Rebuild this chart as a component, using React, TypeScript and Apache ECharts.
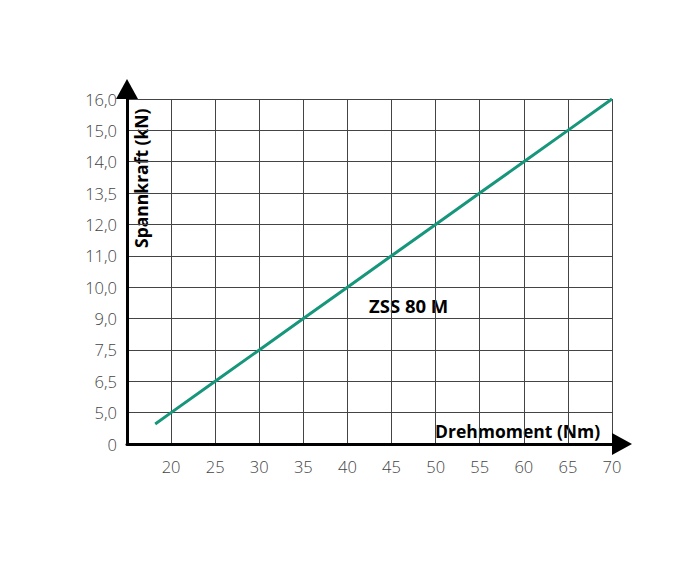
import React, { useEffect, useRef } from "react";
import * as echarts from "echarts";

const torqueTicks = [15, 20, 25, 30, 35, 40, 45, 50, 55, 60, 65, 70];
const forceLabels = ["0", "5,0", "6,5", "7,5", "9,0", "10,0", "11,0", "12,0", "13,5", "14,0", "15,0", "16,0"];
// line: torque (Nm) and position on force scale (index of gridline)
const torque = [18.2, 20, 25, 30, 35, 40, 45, 50, 55, 60, 65, 70];
const forceLevel = [0.64, 1, 2, 3, 4, 5, 6, 7, 8, 9, 10, 11];
const seriesName = "ZSS 80 M";
const xTitle = "Drehmoment (Nm)";
const yTitle = "Spannkraft (kN)";

const FONT = "'Open Sans', sans-serif";

export default function App() {
  const ref = useRef<HTMLDivElement>(null);
  useEffect(() => {
    if (!ref.current) return;
    const chart = echarts.init(ref.current, undefined, { renderer: "svg" });
    chart.setOption({
      animation: false,
      backgroundColor: "#ffffff",
      textStyle: { fontFamily: FONT },
      grid: { left: 119, top: 91, right: 80, bottom: 124, containLabel: false },
      xAxis: {
        type: "value",
        min: torqueTicks[0],
        max: torqueTicks[torqueTicks.length - 1],
        interval: 5,
        axisLine: {
          show: true,
          lineStyle: { color: "#000", width: 3 },
          symbol: ["none", "triangle"],
          symbolSize: [22, 20],
          symbolOffset: [0, 10],
        },
        axisTick: { show: false },
        axisLabel: {
          showMinLabel: false,
          color: "#444",
          fontSize: 16.5,
          fontWeight: 300,
          fontFamily: FONT,
          margin: 14,
        },
        splitLine: { show: true, lineStyle: { color: "#444", width: 1 } },
      },
      yAxis: {
        type: "value",
        min: 0,
        max: forceLabels.length - 1,
        interval: 1,
        axisLine: {
          show: true,
          lineStyle: { color: "#000", width: 3 },
          symbol: ["none", "triangle"],
          symbolSize: [22, 20],
          symbolOffset: [0, 10],
        },
        axisTick: { show: false },
        axisLabel: {
          color: "#444",
          fontSize: 16.5,
          fontWeight: 300,
          fontFamily: FONT,
          margin: 10,
          formatter: (v: number) => forceLabels[Math.round(v)] ?? "",
        },
        splitLine: { show: true, lineStyle: { color: "#444", width: 1 } },
      },
      series: [
        {
          name: seriesName,
          type: "line",
          data: torque.map((t, i) => [t, forceLevel[i]]),
          showSymbol: false,
          lineStyle: { color: "#16967b", width: 3 },
        },
      ],
      graphic: [
        {
          type: "text",
          left: 361,
          top: 288,
          style: { text: seriesName, font: `bold 18.5px ${FONT}`, fill: "#000" },
        },
        {
          type: "text",
          left: 427,
          top: 414,
          style: { text: xTitle, font: `bold 17.5px ${FONT}`, fill: "#000" },
        },
        {
          type: "text",
          x: 124,
          y: 240,
          rotation: Math.PI / 2,
          style: { text: yTitle, font: `bold 17.5px ${FONT}`, fill: "#000" },
        },
      ],
    });
    return () => chart.dispose();
  }, []);
  return <div ref={ref} style={{ width: 684, height: 560 }} />;
}
